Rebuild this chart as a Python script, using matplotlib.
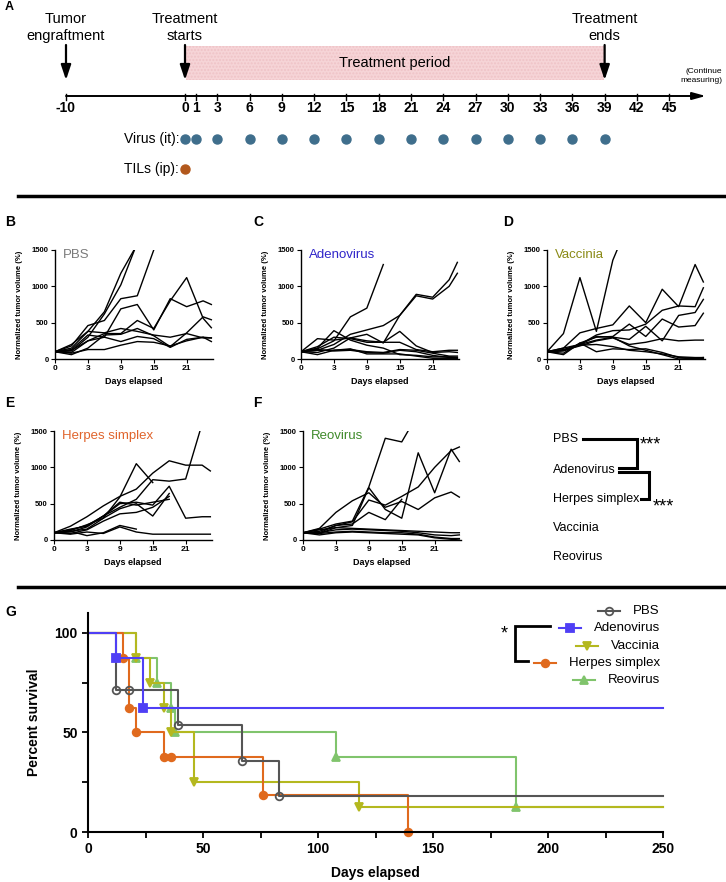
import matplotlib
matplotlib.use('Agg')
import matplotlib.pyplot as plt
from matplotlib.lines import Line2D
from matplotlib.patches import Rectangle

plt.rcParams['font.family'] = ['Liberation Sans', 'DejaVu Sans']

# ---------------- data ----------------
# panel A: schedule
timeline_days = [-10, 0, 1, 3, 6, 9, 12, 15, 18, 21, 24, 27, 30, 33, 36, 39, 42, 45]
virus_days = [0, 1, 3, 6, 9, 12, 15, 18, 21, 24, 27, 30, 33, 36, 39]
til_days = [0]
engraft_day, start_day, end_day = -10, 0, 39

# panels B-F: x is the measurement number, labelled with the day
meas_idx = [0, 1, 2, 3, 4, 5, 6, 7, 8, 9, 9.5]
meas_ticks = [0, 2, 4, 6, 8]
meas_labels = ['0', '3', '9', '15', '21']

pbs_curves = [
    [100, 150, 380, 650, 1180, 1580],
    [100, 110, 300, 620, 1020, 1600],
    [100, 180, 460, 530, 830, 870, 1500],
    [100, 130, 330, 300, 690, 750, 400, 830, 720, 800, 750],
    [100, 90, 250, 350, 350, 530, 420, 800, 1120, 560, 430],
    [100, 200, 380, 360, 420, 380, 330, 300, 350, 290, 290],
    [100, 60, 150, 330, 340, 420, 320, 170, 360, 580, 540],
    [100, 120, 250, 300, 240, 310, 280, 160, 270, 300, 240],
    [100, 80, 130, 130, 190, 240, 230, 180, 250, 300, 290],
]
adeno_curves = [
    [100, 140, 250, 580, 700, 1300],
    [100, 120, 200, 340, 400, 460, 600, 890, 850, 1090, 1330],
    [100, 90, 150, 290, 340, 220, 600, 870, 825, 1000, 1180],
    [100, 280, 260, 290, 250, 230, 230, 130, 100, 120, 120],
    [100, 150, 390, 260, 190, 150, 60, 50, 30, 30, 20],
    [100, 170, 300, 280, 230, 230, 380, 180, 90, 100, 90],
    [100, 120, 120, 130, 100, 90, 130, 120, 80, 40, 40],
    [100, 60, 120, 140, 70, 70, 70, 40, 10, 10, 10],
    [100, 130, 110, 120, 90, 80, 120, 100, 50, 20, 20],
]
vacc_curves = [
    [100, 350, 1120, 380, 1360, 1900],
    [100, 150, 360, 420, 470, 730, 500, 960, 720, 1300, 1060],
    [100, 120, 200, 330, 390, 400, 480, 670, 730, 720, 980],
    [100, 80, 220, 300, 310, 480, 310, 550, 440, 460, 630],
    [100, 150, 200, 260, 300, 270, 450, 250, 600, 640, 820],
    [100, 120, 180, 250, 290, 200, 230, 280, 250, 260, 260],
    [100, 60, 220, 100, 140, 130, 140, 90, 20, 10, 10],
    [100, 110, 190, 200, 170, 120, 100, 70, 30, 20, 20],
    [100, 130, 200, 310, 300, 180, 120, 60, 0, 10, 20],
]
herpes_curves = [
    [100, 140, 200, 330, 450, 560, 830, 810, 840, 1600],
    [100, 130, 210, 300, 590, 1050, 790],
    [100, 190, 320, 470, 600, 700, 920, 1090, 1030, 1030, 950],
    [100, 110, 180, 330, 500, 520, 480, 740, 300, 320, 320],
    [100, 120, 150, 300, 430, 500, 330, 640],
    [100, 90, 140, 260, 360, 380, 450, 600],
    [100, 150, 190, 330, 520, 480, 520, 560],
    [100, 80, 110, 90, 180, 110, 80, 80, 80, 80, 80],
    [100, 120, 60, 100, 200, 150],
]
reo_curves = [
    [100, 150, 220, 260, 730, 1400, 1350, 1740],
    [100, 160, 380, 540, 650, 450, 530, 420, 580, 660, 590],
    [100, 90, 170, 200, 720, 420, 300, 1200, 650, 1250, 1080],
    [100, 100, 200, 250, 550, 480, 600, 730, 1000, 1230, 1280],
    [100, 120, 200, 220, 380, 280, 560],
    [100, 140, 170, 160, 150, 140, 130, 120, 110, 100, 100],
    [100, 100, 140, 150, 140, 130, 120, 100, 70, 60, 70],
    [100, 90, 110, 120, 110, 100, 100, 80, 40, 20, 20],
    [100, 70, 100, 110, 100, 90, 80, 70, 30, 10, 0],
]

sig_order = ['PBS', 'Adenovirus', 'Herpes simplex', 'Vaccinia', 'Reovirus']

# panel G: Kaplan-Meier steps (day, percent survival)
pbs_t = [0, 12, 18, 39, 67, 83, 250]
pbs_s = [100, 71.4, 71.4, 53.6, 35.7, 17.9, 17.9]
adeno_t = [0, 12, 24, 250]
adeno_s = [100, 87.5, 62.5, 62.5]
vacc_t = [0, 21, 27, 33, 36, 46, 118, 250]
vacc_s = [100, 87.5, 75, 62.5, 50, 25, 12.5, 12.5]
herpes_t = [0, 15, 18, 21, 33, 36, 76, 139]
herpes_s = [100, 87.5, 62.5, 50, 37.5, 37.5, 18.75, 0]
reo_t = [0, 21, 30, 36, 38, 108, 186, 250]
reo_s = [100, 87.5, 75, 62.5, 50, 37.5, 12.5, 12.5]

# ---------------- figure ----------------
W, H = 726, 882
fig = plt.figure(figsize=(W / 100, H / 100), dpi=100)


def fx(px):
    return px / W


def fy(py):
    return 1 - py / H


def px_line(pts, **kw):
    fig.add_artist(Line2D([fx(p[0]) for p in pts], [fy(p[1]) for p in pts], **kw))


# ---------- panel A ----------
axa = fig.add_axes([0, fy(190), 1, 190 / H])
axa.set_xlim(-185 / 10.76, (W - 185) / 10.76)
axa.set_ylim(190, 0)
axa.axis('off')


def tpos(d):
    # the axis is broken between -10 and 0
    return d if d >= 0 else d - 1.06


axa.add_patch(Rectangle((start_day + 0.1, 46), end_day - start_day - 0.2, 34,
                        facecolor='#f6d4d7', edgecolor='#efc3c7', hatch='.....', lw=0, zorder=0))
axa.text((start_day + end_day) / 2, 63, 'Treatment period', ha='center', va='center', fontsize=10.5)

for d, lab in [(engraft_day, 'Tumor\nengraftment'), (start_day, 'Treatment\nstarts'), (end_day, 'Treatment\nends')]:
    axa.annotate('', xy=(tpos(d), 80), xytext=(tpos(d), 45),
                 arrowprops=dict(arrowstyle='-|>,head_length=0.9,head_width=0.3',
                                 color='k', lw=1.6, shrinkA=0, shrinkB=0))
    axa.text(tpos(d), 43, lab, ha='center', va='bottom', fontsize=10.5, linespacing=1.25)

axa.annotate('', xy=(48.4, 96), xytext=(tpos(-10), 96),
             arrowprops=dict(arrowstyle='-|>,head_length=0.8,head_width=0.22',
                             color='k', lw=1.4, shrinkA=0, shrinkB=0))
for d in timeline_days:
    axa.plot([tpos(d), tpos(d)], [94, 100], color='k', lw=1)
    axa.text(tpos(d), 108, str(d), ha='center', va='center', fontsize=10, fontweight='bold')
axa.text(49.9, 76, '(Continue\nmeasuring)', ha='right', va='center', fontsize=6, linespacing=1.4)

axa.text(-0.55, 139, 'Virus (it):', ha='right', va='center', fontsize=10)
axa.text(-0.55, 169, 'TILs (ip):', ha='right', va='center', fontsize=10)
axa.plot(virus_days, [139] * len(virus_days), 'o', color='#3f6e8c', ms=6.5)
axa.plot(til_days, [169] * len(til_days), 'o', color='#b2581c', ms=6.5)

fig.text(fx(5), fy(7), 'A', fontsize=9, fontweight='bold', va='center')

# separators
px_line([(18, 196), (W, 196)], color='k', lw=2.5)
px_line([(18, 587), (W, 587)], color='k', lw=2.5)


# ---------- panels B-F ----------
def tumor_panel(left, top, curves, name, color, letter, letter_x):
    ax = fig.add_axes([fx(left), fy(top + 109), 158 / W, 109 / H])
    for c in curves:
        ax.plot(meas_idx[:len(c)], c, color='k', lw=1.0)
    ax.set_xlim(0, 9.6)
    ax.set_ylim(0, 1500)
    ax.spines['top'].set_visible(False)
    ax.spines['right'].set_visible(False)
    for s in ('left', 'bottom'):
        ax.spines[s].set_linewidth(1)
    ax.set_yticks([0, 500, 1000, 1500])
    ax.set_xticks(meas_ticks, meas_labels)
    ax.tick_params(length=3, width=0.8, pad=1.5)
    for lab in ax.get_yticklabels():
        lab.set_fontsize(5.5)
        lab.set_fontweight('bold')
    for lab in ax.get_xticklabels():
        lab.set_fontsize(6)
        lab.set_fontweight('bold')
    ax.set_ylabel('Normalized tumor volume (%)', fontsize=5.5, fontweight='bold')
    ax.yaxis.set_label_coords(-0.2, 0.5)
    ax.set_xlabel('Days elapsed', fontsize=6.5, fontweight='bold')
    ax.xaxis.set_label_coords(0.5, -0.165)
    ax.text(0.05, 0.955, name, transform=ax.transAxes, color=color, fontsize=9.5, va='center')
    fig.text(fx(letter_x), fy(top - 28), letter, fontsize=10, fontweight='bold', va='center')
    return ax


tumor_panel(55, 250, pbs_curves, 'PBS', '#7a7a7a', 'B', 5)
tumor_panel(301, 250, adeno_curves, 'Adenovirus', '#2f25c9', 'C', 253)
tumor_panel(547, 250, vacc_curves, 'Vaccinia', '#8a8a16', 'D', 503)
tumor_panel(54, 431, herpes_curves, 'Herpes simplex', '#e0642c', 'E', 5)
tumor_panel(303, 431, reo_curves, 'Reovirus', '#3f8a2a', 'F', 253)

# significance summary
sig_y = [439, 470, 499, 528, 557]
sig_txt = {}
for name, y in zip(sig_order, sig_y):
    sig_txt[name] = fig.text(fx(553), fy(y), name, fontsize=9, va='center')

# ---------- panel G ----------
axg = fig.add_axes([fx(88), fy(832), 575 / W, 219 / H])
groups = [
    ('Reovirus', reo_t, reo_s, '#80c46c', dict(marker='^', mfc='#80c46c')),
    ('Vaccinia', vacc_t, vacc_s, '#b4b81f', dict(marker='v', mfc='#b4b81f')),
    ('Herpes simplex', herpes_t, herpes_s, '#e06a1e', dict(marker='o', mfc='#e06a1e')),
    ('PBS', pbs_t, pbs_s, '#555555', dict(marker='o', mfc='none')),
    ('Adenovirus', adeno_t, adeno_s, '#4f3ff5', dict(marker='s', mfc='#4f3ff5')),
]
styles = {}
for name, t, s, col, mk in groups:
    axg.step(t, s, where='post', color=col, lw=1.5, clip_on=False)
    last = len(t) if t[-1] < 250 else len(t) - 1
    axg.plot(t[1:last], s[1:last], ls='none', color=col, ms=5.5, mew=1.3, clip_on=False, **mk)
    styles[name] = (col, mk)

axg.set_xlim(0, 250)
axg.set_ylim(0, 110)
axg.spines['top'].set_visible(False)
axg.spines['right'].set_visible(False)
for s in ('left', 'bottom'):
    axg.spines[s].set_linewidth(1.5)
axg.set_xticks([0, 50, 100, 150, 200, 250])
axg.set_xticks(range(0, 251, 25), minor=True)
axg.set_yticks([0, 50, 100])
axg.set_yticks([25, 75], minor=True)
axg.tick_params(which='both', length=4, width=1.3)
axg.tick_params(labelsize=10)
for lab in axg.get_xticklabels() + axg.get_yticklabels():
    lab.set_fontweight('bold')
axg.set_ylabel('Percent survival', fontsize=10, fontweight='bold')
axg.yaxis.set_label_coords((41 - 88) / 575, 0.5)
axg.set_xlabel('Days elapsed', fontsize=10, fontweight='bold')
axg.xaxis.label.set_va('center')
axg.xaxis.set_label_coords(0.5, -41 / 219)
fig.text(fx(5), fy(612), 'G', fontsize=10, fontweight='bold', va='center')

leg_order = ['PBS', 'Adenovirus', 'Vaccinia', 'Herpes simplex', 'Reovirus']
leg_y = [611, 628, 646, 663, 680]
leg_txt = {}
for name, y in zip(leg_order, leg_y):
    leg_txt[name] = fig.text(fx(660), fy(y), name, fontsize=9.5, ha='right', va='center')

# ---------- layout pieces that depend on text size ----------
fig.canvas.draw()
rend = fig.canvas.get_renderer()
end = {n: t.get_window_extent(rend).x1 for n, t in sig_txt.items()}
bx1 = end['Adenovirus'] + 21
px_line([(end['PBS'] + 5, 439), (bx1, 439), (bx1, 468), (end['Adenovirus'] + 3, 468)],
        color='k', lw=2.2, solid_joinstyle='miter')
fig.text(fx(bx1 + 3), fy(445), '***', fontsize=13, va='center')
bx2 = end['Herpes simplex'] + 10
px_line([(end['Adenovirus'] + 3, 472), (bx2, 472), (bx2, 499), (end['Herpes simplex'] + 2, 499)],
        color='k', lw=2.2, solid_joinstyle='miter')
fig.text(fx(bx2 + 3), fy(507), '***', fontsize=13, va='center')

hstart = {}
for name, y in zip(leg_order, leg_y):
    x0 = leg_txt[name].get_window_extent(rend).x0
    col, mk = styles[name]
    h0, h1 = x0 - 13 - 22, x0 - 13
    hstart[name] = h0
    px_line([(h0, y), (h1, y)], color=col, lw=1.5)
    fig.add_artist(Line2D([fx((h0 + h1) / 2)], [fy(y)], ls='none', color=col, ms=5.5, mew=1.3, **mk))

vx = hstart['Herpes simplex'] - 19
px_line([(hstart['Adenovirus'] - 9, 626), (vx, 626), (vx, 661), (hstart['Herpes simplex'] - 6, 661)],
        color='k', lw=2.0, solid_joinstyle='miter')
fig.text(fx(vx - 11), fy(634), '*', fontsize=13, va='center', ha='center')

fig.savefig('out.png', dpi=100)
